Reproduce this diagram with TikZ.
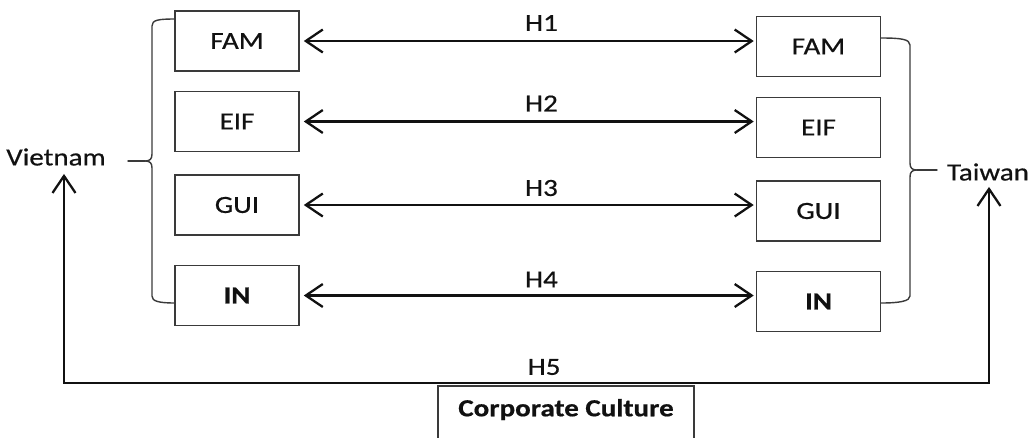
\documentclass[tikz,border=0pt]{standalone}
\usepackage{fontspec}
\setmainfont{Carlito}[FakeStretch=1.18, FakeBold=0.6]
\usetikzlibrary{calc,arrows.meta}
\definecolor{ink}{HTML}{111111}
\definecolor{soft}{HTML}{3A3A3A}
\tikzset{
  box/.style={draw=soft, line width=0.9pt, minimum width=2.48cm, minimum height=1.2cm,
    inner sep=0pt, text=ink, font=\fontsize{14}{16}\selectfont},
  harrow/.style={draw=ink, line width=1.3pt,
    {Straight Barb[length=3.4mm,width=4.6mm]}-{Straight Barb[length=3.4mm,width=4.6mm]}},
  brace/.style={draw=soft, line width=0.8pt, line cap=round, line join=round},
  lab/.style={text=ink, inner sep=0pt, font=\fontsize{14}{16}\selectfont},
  ccbox/.style={draw=soft, line width=0.9pt, anchor=north, minimum width=5.12cm,
    inner sep=0pt, text height=0.61cm, text depth=0.6cm, text=ink,
    font=\fontsize{14}{16}\selectfont\bfseries},
}
\begin{document}
\begin{tikzpicture}[x=0.02cm, y=-0.02cm]
  \useasboundingbox (0,0) rectangle (1031,437);
  \clip (0,0) rectangle (1031,437);

  % left column
  \node[box] (lFAM) at (237,41) {FAM};
  \node[box] (lEIF) at (237,121.5) {EIF};
  \node[box] (lGUI) at (237,205) {GUI};
  \node[box,font=\fontsize{14}{16}\selectfont\bfseries] (lIN) at (237,295.5) {IN};

  % right column
  \node[box] (rFAM) at (818.5,46.5) {FAM};
  \node[box] (rEIF) at (818.5,127.5) {EIF};
  \node[box] (rGUI) at (818.5,211) {GUI};
  \node[box,font=\fontsize{14}{16}\selectfont\bfseries] (rIN) at (818.5,301.5) {IN};

  % hypotheses H1-H4
  \draw[harrow, shorten <=0.08cm, shorten >=0.04cm] (lFAM.east) -- (lFAM.east -| rFAM.west)
    node[lab, pos=0.53, yshift=0.36cm] {H1};
  \draw[harrow, shorten <=0.08cm, shorten >=0.04cm] (lEIF.east) -- (lEIF.east -| rEIF.west)
    node[lab, pos=0.53, yshift=0.36cm] {H2};
  \draw[harrow, shorten <=0.08cm, shorten >=0.04cm] (lGUI.east) -- (lGUI.east -| rGUI.west)
    node[lab, pos=0.53, yshift=0.34cm] {H3};
  \draw[harrow, shorten <=0.08cm, shorten >=0.04cm] (lIN.east) -- (lIN.east -| rIN.west)
    node[lab, pos=0.53, yshift=0.32cm] {H4};

  % countries
  \node[lab, anchor=center] (viet) at (56,157) {Vietnam};
  \node[lab, anchor=center] (taiwan) at (988,172) {Taiwan};

  % braces
  \draw[brace] (175,19) .. controls (158,19) and (152,20) .. (152,26) -- (152,154)
    .. controls (152,159) and (150,161) .. (145,161)
    .. controls (150,161) and (152,163) .. (152,168) -- (152,296)
    .. controls (152,301) and (158,303) .. (175,303);
  \draw[brace] (128,161) -- (145,161);
  \draw[brace] (881,38) .. controls (900,38) and (910,39) .. (910,45) -- (910,163)
    .. controls (910,168) and (912,170) .. (917,170)
    .. controls (912,170) and (910,172) .. (910,177) -- (910,296)
    .. controls (910,301) and (900,303) .. (881,303);
  \draw[brace] (917,170) -- (937,170);

  % H5 and corporate culture
  \coordinate (h5l) at (64,383);
  \coordinate (h5r) at (989,383);
  \draw[harrow] ($(viet.south)+(8,8)$) -- (h5l) -- (h5r)
    node[lab, pos=0.519, yshift=0.32cm] {H5}
    -- ($(taiwan.south)+(1,6)$);
  \node[ccbox] (cc) at (566,385) {Corporate Culture};
\end{tikzpicture}
\end{document}
